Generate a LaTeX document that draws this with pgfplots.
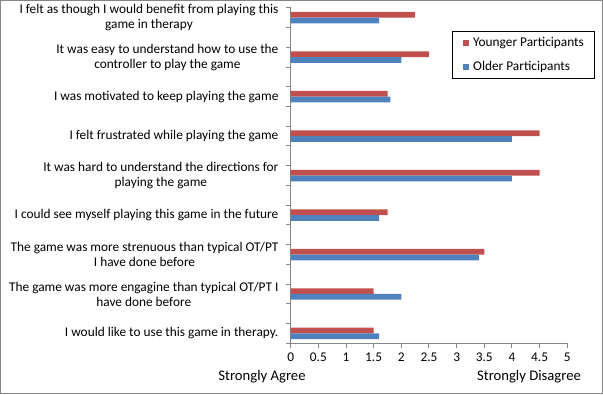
\documentclass[border=0pt]{standalone}
\usepackage{fontspec}
\setmainfont{Carlito}
\usepackage{pgfplots}
\pgfplotsset{compat=1.18}
\definecolor{barred}{HTML}{C0504D}
\definecolor{barblue}{HTML}{4F81BD}
\definecolor{axgray}{HTML}{868686}
\begin{document}
\begin{tikzpicture}
\draw[axgray, line width=0.75pt] (0.375pt,-0.375pt) rectangle (451.875pt,-295.125pt);
\begin{axis}[
  at={(218.025pt,-257.25pt)}, anchor=south west,
  scale only axis, width=207.45pt, height=251.6pt,
  xbar, bar width=4.3pt,
  xmin=0, xmax=5, ymin=-0.5, ymax=16.5,
  axis x line=bottom, axis y line=left,
  axis line style={-, axgray, line width=0.75pt},
  tick align=outside, major tick length=3.75pt,
  tick style={axgray, line width=0.75pt},
  xtick={0,0.5,1,1.5,2,2.5,3,3.5,4,4.5,5},
  /pgf/number format/assume math mode=true,
  /pgf/number format/fixed,
  xticklabel style={font=\fontsize{10}{12}\selectfont},
  ytick={-0.5,0.5,1.5,2.5,3.5,4.5,5.5,6.5,7.5,8.5,9.5,10.5,11.5,12.5,13.5,14.5,15.5,16.5},
  yticklabels={},
  extra y ticks={0,2,4,6,8,10,12,14,16},
  extra y tick labels={
    {I would like to use this game in therapy.},
    {The game was more engagine than typical OT/PT I\\have done before},
    {The game was more strenuous than typical OT/PT\\I have done before},
    {I could see myself playing this game in the future},
    {It was hard to understand the directions for\\playing the game},
    {I felt frustrated while playing the game},
    {I was motivated to keep playing the game},
    {It was easy to understand how to use the\\controller to play the game},
    {I felt as though I would benefit from playing this\\game in therapy}},
  extra y tick style={major tick length=0pt,
    yticklabel style={align=center, font=\fontsize{10}{11.25}\selectfont, xshift=-5.7pt}},
  legend image code/.code={\fill[#1] (0pt,-2.25pt) rectangle (4.5pt,2.25pt);},
  legend style={at={(axis description cs:0.583,0.931)}, anchor=north west,
    draw=black, line width=0.75pt, inner xsep=8.25pt, inner ysep=4.1pt,
    row sep=8.6pt, font=\fontsize{10}{12}\selectfont,
    cells={anchor=west},
    nodes={inner sep=0pt, text height=7pt, text depth=2.2pt},
    /tikz/every odd column/.append style={column sep=2.8pt}},
]
\addplot[fill=barred, draw=none, bar shift=2.15pt] coordinates {
  (1.5,0) (1.5,2) (3.5,4) (1.75,6) (4.5,8) (4.5,10) (1.75,12) (2.5,14) (2.25,16)};
\addlegendentry{Younger Participants}
\addplot[fill=barblue, draw=none, bar shift=-2.15pt] coordinates {
  (1.6,0) (2.0,2) (3.4,4) (1.6,6) (4.0,8) (4.0,10) (1.8,12) (2.0,14) (1.6,16)};
\addlegendentry{Older Participants}
\end{axis}
\node[font=\fontsize{11}{13}\selectfont] at (196.5pt,-282.5pt) {Strongly Agree};
\node[font=\fontsize{11}{13}\selectfont] at (396.75pt,-282.5pt) {Strongly Disagree};
\end{tikzpicture}
\end{document}
